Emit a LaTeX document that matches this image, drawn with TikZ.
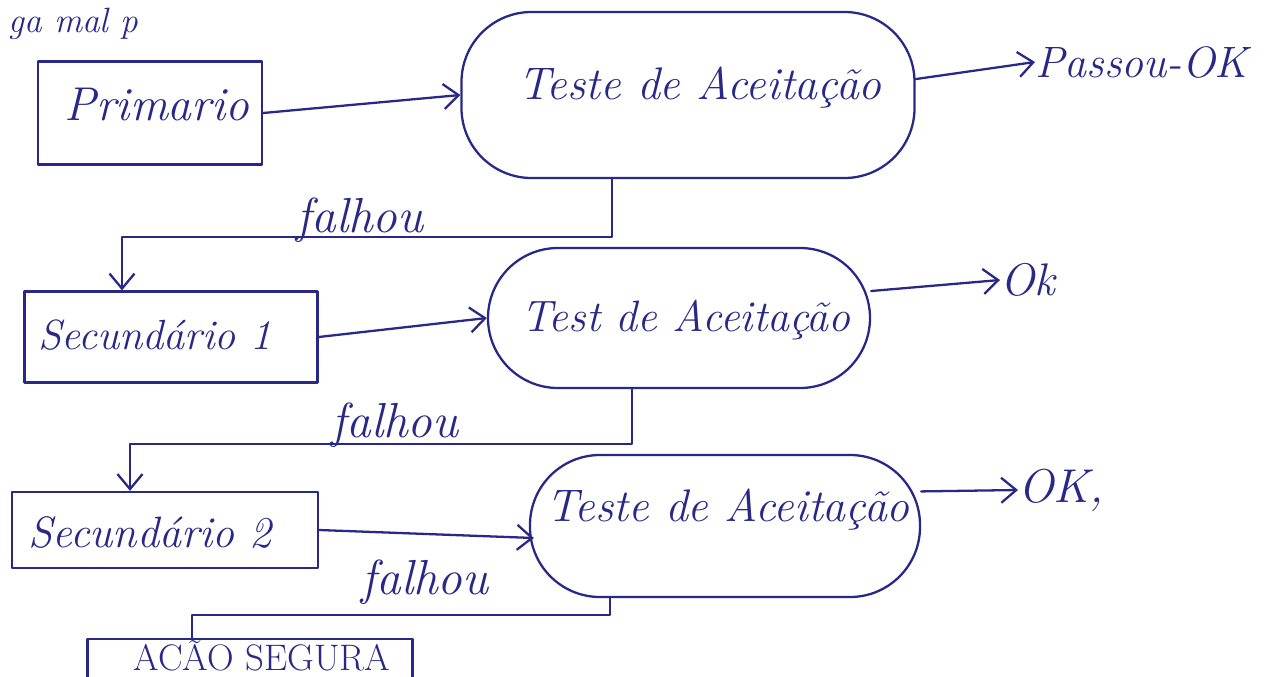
\documentclass[tikz,border=0pt]{standalone}
\usetikzlibrary{arrows.meta,calc}
\definecolor{ink}{RGB}{40,40,135}
\begin{document}
\begin{tikzpicture}[x=0.2mm,y=-0.2mm,
  every node/.style={text=ink},
  inkline/.style={draw=ink,line width=1.3pt,line cap=round,line join=round},
  arr/.style={inkline,-{Straight Barb[length=3mm,width=5mm,line width=1.3pt]}},
  boxnode/.style={inkline,rectangle,inner sep=0pt},
  testnode/.style={inkline,rectangle,rounded corners=14mm,inner sep=0pt},
  hand/.style={font=\itshape\fontsize{#1}{#1}\selectfont},
  lbl/.style={inner sep=0pt}
]
\useasboundingbox (0,0) rectangle (1270,676);
\begin{scope}
\clip (0,0) rectangle (1270,676);
% partial text at top edge
\node[lbl,hand=20,anchor=base west] (topfrag) at (8,32) {ga mal p};

% nodes
\node[boxnode,minimum width=44.8mm,minimum height=20.6mm] (prim) at (150,113) {};
\node[lbl,hand=27] (primt) at (157,105) {Primario};

\node[testnode,minimum width=90.6mm,minimum height=33.2mm] (t1) at (688,95) {};
\node[lbl,hand=26] (t1t) at (700,88) {Teste de Aceitação};
\node[lbl,hand=25,anchor=west] (passou) at (1035,62) {Passou-OK};

\node[boxnode,minimum width=58.6mm,minimum height=18.2mm] (s1) at (171,337) {};
\node[lbl,hand=24] (s1t) at (155,335) {Secundário 1};

\node[testnode,minimum width=76.4mm,minimum height=28mm] (t2) at (679,318) {};
\node[lbl,hand=25] (t2t) at (686,320) {Test de Aceitação};
\node[lbl,hand=26,anchor=west] (ok2) at (1000,280) {Ok};

\node[boxnode,minimum width=61.2mm,minimum height=15.2mm] (s2) at (165,530) {};
\node[lbl,hand=25] (s2t) at (150,532) {Secundário 2};

\node[testnode,minimum width=78mm,minimum height=28.4mm] (t3) at (725,526) {};
\node[lbl,hand=26] (t3t) at (728,510) {Teste de Aceitação};
\node[lbl,hand=27,anchor=west] (ok3) at (1018,490) {OK,};

\node[boxnode,minimum width=65mm,minimum height=14mm,anchor=north] (safe) at (250,638) {};
\node[lbl,font=\fontsize{21}{21}\selectfont,anchor=base] (safet) at (262,670) {ACÃO SEGURA};

% connectors
\draw[arr] (prim.east) -- (t1.west);
\draw[arr] (t1.4) -- (passou.west);
\draw[arr] (s1.east) -- (t2.west);
\draw[arr] (t2.8) -- (ok2.west);
\draw[arr] (s2.east) -- ($(t3.west)+(5,12)$);
\draw[arr] (t3.10) -- (ok3.west);

\draw[arr] ($(t1.south)+(-76,0)$) -- ++(0,58) coordinate (f1) -| ($(s1.north)+(-49,0)$);
\draw[arr] ($(t2.south)+(-47,0)$) -- ++(0,55) coordinate (f2) -| ($(s2.north)+(-35,0)$);
\draw[inkline] ($(t3.south)+(-115,0)$) -- ++(0,17) coordinate (f3) -| ($(safe.north)+(-58,0)$);

% labels
\node[lbl,hand=28] (l1) at (360,220) {falhou};
\node[lbl,hand=28] (l2) at (395,425) {falhou};
\node[lbl,hand=28] (l3) at (425,582) {falhou};
\end{scope}
\end{tikzpicture}
\end{document}
